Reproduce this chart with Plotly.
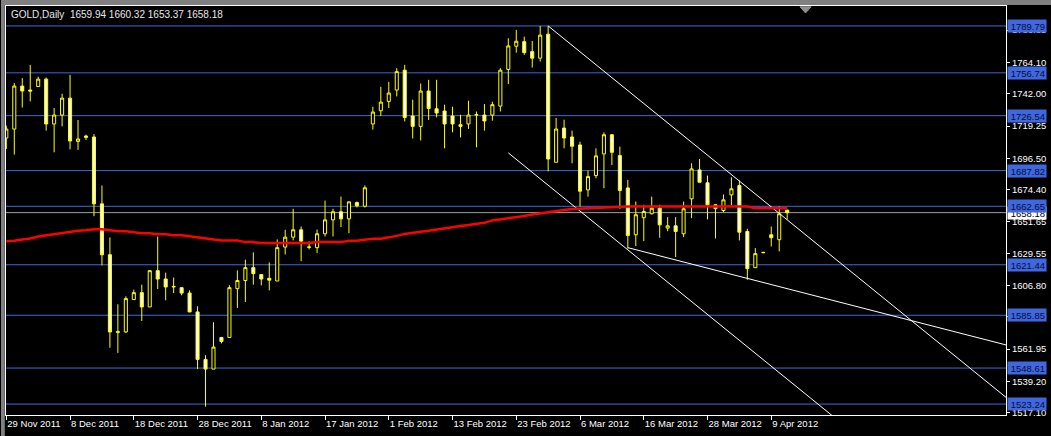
import plotly.graph_objects as go

# ---------------- data ----------------
bar_open = [1710.8, 1717.1, 1747.4, 1744.6, 1747.1, 1752.3, 1720.7, 1727.0, 1738.9, 1708.4,
            1712.2, 1711.5, 1664.4, 1628.5, 1574.3, 1574.1, 1596.9, 1601.8, 1591.7, 1617.3,
            1611.4, 1606.2, 1605.3, 1601.5, 1588.2, 1554.7, 1547.9, 1570.2, 1570.2, 1604.6,
            1610.3, 1619.4, 1614.5, 1611.9, 1610.0, 1633.9, 1640.9, 1646.1, 1634.0, 1633.5,
            1643.3, 1653.1, 1658.8, 1653.8, 1665.3, 1662.7, 1720.7, 1730.0, 1736.6, 1744.6,
            1758.6, 1726.3, 1719.0, 1743.9, 1731.4, 1729.8, 1726.3, 1720.2, 1720.7, 1727.3,
            1727.0, 1727.0, 1733.3, 1759.1, 1775.5, 1778.7, 1771.7, 1767.1, 1784.0, 1693.7,
            1717.8, 1711.5, 1705.9, 1674.2, 1684.3, 1699.6, 1713.1, 1698.4, 1675.6, 1642.6,
            1654.6, 1657.4, 1661.3, 1647.3, 1648.9, 1643.3, 1667.9, 1688.3, 1679.2, 1663.7,
            1659.7, 1670.7, 1677.3, 1644.9, 1619.4, 1630.2, 1642.6, 1639.1, 1659.94]
bar_high = [1719.5, 1749.5, 1753.0, 1762.4, 1754.0, 1753.4, 1731.9, 1742.0, 1755.3, 1723.5,
            1713.1, 1713.6, 1677.3, 1640.7, 1593.6, 1599.2, 1603.9, 1607.4, 1617.3, 1641.4,
            1615.9, 1612.4, 1605.5, 1603.4, 1592.2, 1557.7, 1580.9, 1570.2, 1607.0, 1617.5,
            1625.0, 1630.2, 1614.5, 1623.1, 1639.3, 1646.1, 1660.9, 1648.4, 1637.9, 1646.3,
            1666.7, 1660.9, 1669.5, 1665.8, 1666.0, 1677.3, 1732.8, 1746.9, 1750.4, 1760.0,
            1762.4, 1737.8, 1749.2, 1751.8, 1751.8, 1734.3, 1732.8, 1727.2, 1737.1, 1729.5,
            1734.7, 1736.4, 1760.0, 1781.1, 1787.0, 1782.3, 1779.2, 1789.8, 1789.8, 1724.9,
            1723.7, 1716.0, 1708.2, 1687.8, 1703.5, 1714.8, 1713.6, 1704.7, 1681.3, 1666.0,
            1663.7, 1669.5, 1663.7, 1655.0, 1655.0, 1666.0, 1693.0, 1696.0, 1684.3, 1663.9,
            1671.0, 1683.1, 1680.8, 1646.8, 1633.2, 1630.6, 1648.4, 1662.5, 1660.32]
bar_low = [1703.1, 1699.1, 1732.3, 1736.6, 1747.1, 1716.0, 1700.7, 1719.0, 1702.8, 1702.4,
           1709.4, 1655.7, 1621.0, 1562.9, 1559.3, 1573.4, 1596.9, 1581.8, 1591.7, 1604.3,
           1596.4, 1601.5, 1599.9, 1588.0, 1547.9, 1521.4, 1547.9, 1566.0, 1570.0, 1591.0,
           1595.2, 1607.4, 1606.9, 1603.4, 1610.0, 1628.7, 1638.6, 1624.0, 1632.3, 1629.7,
           1641.4, 1641.4, 1648.0, 1643.7, 1661.8, 1661.8, 1716.7, 1726.3, 1731.9, 1740.1,
           1722.5, 1710.5, 1709.1, 1723.5, 1725.3, 1703.5, 1714.8, 1711.2, 1717.2, 1704.2,
           1716.0, 1723.0, 1729.5, 1748.8, 1771.0, 1769.4, 1760.5, 1764.7, 1687.3, 1693.7,
           1703.5, 1693.0, 1662.5, 1669.5, 1682.4, 1675.4, 1691.8, 1660.9, 1632.8, 1634.6,
           1638.1, 1656.9, 1640.5, 1645.1, 1626.9, 1640.9, 1654.3, 1679.6, 1653.4, 1640.0,
           1658.5, 1663.2, 1638.6, 1610.9, 1619.4, 1629.6, 1634.4, 1630.9, 1653.37]
bar_close = [1717.1, 1747.4, 1743.9, 1743.9, 1752.3, 1720.7, 1727.0, 1738.9, 1708.7, 1710.1,
             1711.3, 1664.4, 1628.5, 1574.1, 1573.9, 1597.6, 1601.8, 1591.7, 1617.3, 1611.4,
             1605.8, 1605.9, 1601.5, 1588.2, 1554.7, 1547.9, 1563.4, 1567.4, 1605.3, 1610.3,
             1619.4, 1615.2, 1611.4, 1610.6, 1633.5, 1640.9, 1646.1, 1638.1, 1633.8, 1643.3,
             1653.1, 1658.8, 1653.8, 1665.8, 1663.0, 1675.7, 1729.1, 1736.1, 1742.5, 1757.6,
             1725.3, 1719.0, 1743.9, 1731.6, 1728.4, 1720.7, 1720.7, 1719.0, 1727.0, 1727.1,
             1722.8, 1734.3, 1758.6, 1775.7, 1779.0, 1771.0, 1767.1, 1783.3, 1696.0, 1717.1,
             1710.8, 1705.0, 1673.3, 1683.6, 1698.2, 1713.1, 1700.7, 1673.8, 1642.1, 1656.7,
             1659.0, 1661.3, 1649.6, 1648.9, 1644.9, 1660.9, 1689.0, 1679.6, 1663.7, 1661.0,
             1667.2, 1675.0, 1644.4, 1618.7, 1629.3, 1630.0, 1640.5, 1657.4, 1658.18]
ma_values = [1638.1, 1638.4, 1639.3, 1640.0, 1641.4, 1642.3, 1643.0, 1643.7, 1644.7, 1645.4,
             1645.8, 1646.5, 1646.5, 1645.8, 1645.1, 1645.1, 1644.4, 1643.7, 1643.7, 1643.0,
             1643.0, 1642.3, 1642.3, 1641.6, 1640.9, 1640.2, 1639.3, 1638.6, 1638.6, 1638.6,
             1637.4, 1637.4, 1636.7, 1636.7, 1636.7, 1636.7, 1636.7, 1636.7, 1636.7, 1637.4,
             1637.4, 1637.4, 1637.4, 1638.4, 1638.4, 1639.1, 1639.8, 1639.8, 1640.7, 1641.8,
             1643.2, 1643.7, 1644.7, 1645.4, 1646.3, 1647.4, 1648.1, 1648.8, 1649.4, 1650.3,
             1651.0, 1652.7, 1653.4, 1654.1, 1655.0, 1655.8, 1656.9, 1657.8, 1658.5, 1659.5,
             1660.0, 1660.8, 1661.1, 1661.5, 1661.8, 1662.0, 1662.3, 1662.5, 1662.5, 1662.5,
             1662.5, 1662.5, 1662.5, 1662.5, 1662.5, 1662.5, 1662.5, 1662.5, 1662.5, 1662.5,
             1662.5, 1662.5, 1662.5, 1662.5, 1661.3, 1661.3, 1661.3, 1661.3, 1661.3]

date_tick_bars = [0, 8, 16, 24, 32, 40, 48, 56, 64, 72, 80, 88, 96]
date_labels = ["29 Nov 2011", "8 Dec 2011", "18 Dec 2011", "28 Dec 2011", "8 Jan 2012",
               "17 Jan 2012", "1 Feb 2012", "13 Feb 2012", "23 Feb 2012", "6 Mar 2012",
               "16 Mar 2012", "28 Mar 2012", "9 Apr 2012"]
price_ticks = [1786.85, 1764.10, 1742.00, 1719.25, 1696.50, 1674.40, 1651.65, 1629.55,
               1606.80, 1584.70, 1561.95, 1539.20, 1517.10]
level_lines = [1789.79, 1756.74, 1726.54, 1687.82, 1662.65, 1621.44, 1585.85, 1548.61, 1523.24]
bid_price = 1658.18
header = "GOLD,Daily  1659.94 1660.32 1653.37 1658.18"

# trend line anchors (bar index, price)
trend_a = [(68, 1789.8), (98, 1653.1)]
trend_b = [(78, 1633.5), (98, 1604.6)]
trend_c = [(63, 1700.3), (93, 1563.6)]

X_MIN, X_MAX = -0.04, 125.46
Y_MIN, Y_MAX = 1515.53, 1803.85

FONT = "Liberation Sans, Arial, sans-serif"

fig = go.Figure()

# trend lines (rays extended to the right edge)
for (x0, y0), (x1, y1) in [trend_a, trend_b, trend_c]:
    slope = (y1 - y0) / (x1 - x0)
    xe = X_MAX + 1
    fig.add_trace(go.Scatter(x=[x0, xe], y=[y0, y0 + slope * (xe - x0)], mode="lines",
                             line=dict(color="#FFFFFF", width=1), hoverinfo="skip",
                             showlegend=False))

x_idx = list(range(len(bar_open)))
fig.add_trace(go.Candlestick(
    x=x_idx, open=bar_open, high=bar_high, low=bar_low, close=bar_close,
    increasing=dict(line=dict(color="#FFFF00", width=1), fillcolor="#000000"),
    decreasing=dict(line=dict(color="#FFFF00", width=1), fillcolor="#FFFFFF"),
    whiskerwidth=0, hoverinfo="skip", showlegend=False))

fig.add_trace(go.Scatter(x=x_idx, y=ma_values, mode="lines",
                         line=dict(color="#FF0000", width=2.5), hoverinfo="skip",
                         showlegend=False))

shapes = []
for lv in level_lines:
    shapes.append(dict(type="line", xref="paper", x0=0, x1=1, yref="y", y0=lv, y1=lv,
                       line=dict(color="#3F68E0", width=1), layer="below"))
shapes.append(dict(type="line", xref="paper", x0=0, x1=1, yref="y", y0=bid_price, y1=bid_price,
                   line=dict(color="#A0A0A0", width=1), layer="below"))
# window frame (left / top grey border)
shapes.append(dict(type="rect", xref="paper", yref="paper", x0=-0.005, x1=-0.0012, y0=-0.06, y1=1.02,
                   fillcolor="#808080", line=dict(width=0), layer="above"))
shapes.append(dict(type="rect", xref="paper", yref="paper", x0=-0.005, x1=1.05, y0=1.0025, y1=1.02,
                   fillcolor="#808080", line=dict(width=0), layer="above"))
# chart shift marker
shapes.append(dict(type="path", xref="x", yref="paper",
                   path="M 99.6,0.998 L 101.0,0.998 L 100.3,0.983 Z",
                   fillcolor="#909090", line=dict(color="#909090", width=1)))

annotations = [dict(xref="paper", yref="paper", x=0, y=1, xshift=3, yshift=-8,
                    xanchor="left", yanchor="middle", text=header, showarrow=False,
                    font=dict(family=FONT, size=10, color="#E8E8E8"))]
annotations.append(dict(xref="paper", yref="y", x=1, y=bid_price, xanchor="left", xshift=1,
                        text=f"{bid_price:.2f}", showarrow=False, bgcolor="#FFFFFF",
                        width=36, height=10, align="right", borderpad=1,
                        font=dict(family=FONT, size=9.5, color="#000000")))
for lv in level_lines:
    annotations.append(dict(xref="paper", yref="y", x=1, y=lv, xanchor="left", xshift=1,
                            text=f"{lv:.2f}", showarrow=False, bgcolor="#3F68E0",
                            width=36, height=10, align="right", borderpad=1,
                            font=dict(family=FONT, size=9.5, color="#0A0A30")))

fig.update_layout(
    width=1051, height=436,
    margin=dict(l=5, r=42, t=5, b=21),
    paper_bgcolor="#000000", plot_bgcolor="#000000",
    boxgap=0.45,
    showlegend=False,
    font=dict(family=FONT, size=9.5, color="#FFFFFF"),
    shapes=shapes, annotations=annotations,
    xaxis=dict(range=[X_MIN, X_MAX], showgrid=False, zeroline=False,
               tickmode="array", tickvals=date_tick_bars, ticktext=date_labels,
               ticks="outside", ticklen=4, tickcolor="#FFFFFF", tickwidth=1,
               ticklabelposition="outside right",
               showline=True, linecolor="#FFFFFF", linewidth=1, mirror=True,
               rangeslider=dict(visible=False),
               tickfont=dict(family=FONT, size=9.5, color="#FFFFFF")),
    yaxis=dict(range=[Y_MIN, Y_MAX], side="right", showgrid=False, zeroline=False,
               tickmode="array", tickvals=price_ticks,
               ticktext=[f"{v:.2f}" for v in price_ticks],
               ticks="outside", ticklen=3, tickcolor="#FFFFFF", tickwidth=1,
               showline=True, linecolor="#FFFFFF", linewidth=1, mirror=True,
               tickfont=dict(family=FONT, size=9.5, color="#FFFFFF")),
)

fig.write_html("out.html", config={"displayModeBar": False, "staticPlot": True},
               post_script="document.body.style.margin='0';document.body.style.background='#000';")
